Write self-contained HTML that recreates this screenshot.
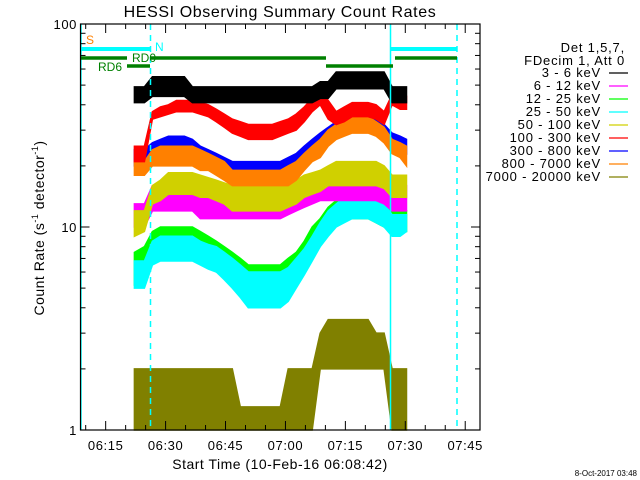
<!DOCTYPE html>
<html><head><meta charset="utf-8"><style>
body{margin:0;background:#fff;}
svg{display:block;font-family:"Liberation Sans",sans-serif;}
</style></head><body>
<svg id="chart" width="640" height="480" viewBox="0 0 640 480" xmlns="http://www.w3.org/2000/svg">
<rect x="0" y="0" width="640" height="480" fill="#fff"/>
<text x="280" y="17" font-size="16" text-anchor="middle" letter-spacing="0.6">HESSI Observing Summary Count Rates</text>
<g id="series"></g>
<g id="overlay"></g>
<g id="axes"></g>
<text x="280" y="469" font-size="14" text-anchor="middle" letter-spacing="0.5">Start Time (10-Feb-16 06:08:42)</text>
<text transform="translate(44,228) rotate(-90)" font-size="14" text-anchor="middle" letter-spacing="0.5">Count Rate (s<tspan font-size="9" dy="-6">-1</tspan><tspan dy="6"> detector</tspan><tspan font-size="9" dy="-6">-1</tspan><tspan dy="6">)</tspan></text>
<text x="637" y="476" font-size="8" text-anchor="end">8-Oct-2017 03:48</text>
<text x="625" y="52" font-size="13" text-anchor="end" letter-spacing="0.8">Det 1,5,7,</text>
<text x="625" y="65" font-size="13" text-anchor="end" letter-spacing="0.8">FDecim 1, Att 0</text>
<g id="legend"></g>
</svg>
<script>
const times = [13.5,16,18,20,22,24,26,28,30,32,34,36,38,40,42,44,46,48,50,52,54,56,58,60,62,64,66,68,70,72,74,76,78,80,81.6];
const bandNames = ["3 - 6 keV","6 - 12 keV","12 - 25 keV","25 - 50 keV","50 - 100 keV","100 - 300 keV","300 - 800 keV","800 - 7000 keV","7000 - 20000 keV"];
const bandColors = ["#000000","#ff00ff","#00ff00","#00ffff","#d0d000","#ff0000","#0000ff","#ff8000","#808000"];
const blackLo = [41,41,44,44,44,44,44,41,41,41,41,41,41,41,41,41,41,41,41,41,41,41,41,43,43,48,48,48,48,48,48,48,41,41,41];
const blackHi = [49,49,55,55,55,55,55,49,49,49,49,49,49,49,49,49,49,49,49,49,49,49,49,52,52,58,58,58,58,58,58,58,49,49,49];
const magentaLo = [10,10,12,12,12,12,12,12,11,11,11,11,11,11,11,11,11,11,11,11.5,12,12.5,13,13.5,13.5,13.5,13.5,13.5,13.5,13.5,13.5,13,12,12,12];
const magentaHi = [13,13,16,16,16,16,16,16,14.7,14.7,14.7,14.7,14.7,14.7,14.7,14.7,14.7,14.5,14.5,15,15.5,16,16.5,17,18,18.5,18.5,18.5,18.5,18.5,18.5,18,16,16,16];
const greenLo = [5.2,5.5,7,7,7,7,7,7,6.8,6.5,6,5.8,5.4,5,4.3,4.3,4.3,4.3,4.3,4.6,5.3,6.3,7.5,8.5,9.5,10.5,11,11,11,11,10.5,10,9.5,9.5,9.5];
const greenHi = [7.5,8,9.5,10,10,10,10,10,9.5,9,8.5,8,7.5,7,6.5,6.5,6.5,6.5,6.5,7,7.5,8.5,10,11,12.5,13.5,14.5,15,15,15,14.5,13.5,12,12,12];
const cyanLo = [5,5,6.5,6.8,6.8,6.8,6.8,6.8,6.5,6.2,6,5.5,5,4.5,4,4,4,4,4,4.3,5,5.8,6.8,8,9,10,10.5,11,11,11,10.5,10,9,9,9.5];
const cyanHi = [6.8,6.8,8.5,9,9,9,9,9,8.5,8.2,8,7.5,7,6.5,6,6,6,6,6,6.3,7,7.8,9,10.5,12,13,14,15,15,15,14,13,11.5,11.5,11.5];
const yellowLo = [9,9.5,13,13.5,14.5,14.5,14.5,14.5,14,14,13.5,13,12,12,12,12,12,12,12,12.5,13,14,14.5,15,16,16,16,16,16,16,16,15.5,14,14,14];
const yellowHi = [12,12,16,17,18.5,18.5,18.5,18.5,18,17.5,17,16.5,16,16,16,16,16,16,16,16,17,18,18.5,19,20,21,21,21,21,21,21,20,18,18,18];
const redLo = [21,21,34,35,36,37,37,37,36,35,33,31,29,28,27,27,27,27,28,29,30,33,37,40,34,32,33,35,35,35,34,32,40,38,38];
const redHi = [25,25,37,39,40,42,42,42,41,40,38,36,34,33,32,32,32,32,33,34,36,39,43,47,42,37,39,41,41,41,40,37,45,44,44];
const blueLo = [20,20,22,22,22,22,22,22,21,20,19,18,17,17,17,17,17,17,17,18,19,21,22,24,27,29,30,30,30,30,30,28,25,24,23];
const blueHi = [24,24,26,27,28,28,28,27,25,24,23,22,21,21,21,21,21,21,21,22,23,25,27,29,31,33,34,34,34,34,34,32,29,28,27];
const orangeLo = [18,18,20,20,20,20,20,20,19,19,18,17,16,16,16,16,16,16,16,16,17,19,21,22,25,27,28,29,29,29,28,26,23,22,20];
const orangeHi = [21,21,24,25,25,25,25,25,24,23,22,21,19,19,19,19,19,19,19,20,21,23,25,27,30,32,34,35,35,35,33,31,27,26,25];
const oliveLo = [1,1,1,1,1,1,1,1,1,1,1,1,1,1,1,1,1,1,1,1,1,1,1,2,2,2,2,2,2,2,2,2,1,1,1];
const oliveHi = [2,2,2,2,2,2,2,2,2,2,2,2,2,1.3,1.3,1.3,1.3,1.3,1.3,2,2,2,2,3,3.5,3.5,3.5,3.5,3.5,3.5,3,3,2,2,2];
const xTickLabels = ["06:15","06:30","06:45","07:00","07:15","07:30","07:45"];
const xTickMinutes = [6.3,21.3,36.3,51.3,66.3,81.3,96.3];
const yTickLabels = ["1","10","100"];
const yTickValues = [1,10,100];

const X0=80.5, X1=480, Y0=430, Y1=24, TMAX=100;
function xs(t){return X0+(X1-X0)*t/TMAX;}
function ys(v){return Y0-(Y0-Y1)*Math.log10(v)/2;}
const NS="http://www.w3.org/2000/svg";
function mk(tag,attrs,parent){const e=document.createElementNS(NS,tag);for(const k in attrs)e.setAttribute(k,attrs[k]);parent.appendChild(e);return e;}

const series=document.getElementById('series');
const los=[blackLo,magentaLo,greenLo,cyanLo,yellowLo,redLo,blueLo,orangeLo,oliveLo];
const his=[blackHi,magentaHi,greenHi,cyanHi,yellowHi,redHi,blueHi,orangeHi,oliveHi];
const order=[8,2,3,1,4,6,7,5,0];
order.forEach(function(i){
  const lo=los[i],hi=his[i];
  let pts=[];
  for(let k=0;k<times.length;k++)pts.push(xs(times[k]).toFixed(1)+","+ys(hi[k]).toFixed(1));
  for(let k=times.length-1;k>=0;k--)pts.push(xs(times[k]).toFixed(1)+","+ys(lo[k]).toFixed(1));
  const p=mk('polygon',{points:pts.join(' '),fill:bandColors[i],stroke:bandColors[i],'stroke-width':1.5},series);
  
  
});

const ov=document.getElementById('overlay');
function line(x1,y1,x2,y2,c,w,dash,name){const l=mk('line',{x1:x1,y1:y1,x2:x2,y2:y2,stroke:c,'stroke-width':w},ov);if(dash)l.setAttribute('stroke-dasharray',dash);}
line(81,24,81,430,'#00ffff',1.5,null,'saa-start-line');
line(150.5,24,150.5,430,'#00ffff',1.5,'6,5','night-start-line');
line(390.5,24,390.5,430,'#00ffff',1.5,null,'saa-line-2');
line(457,24,457,430,'#00ffff',1.5,'6,5','night-line-2');
line(80,49,150,49,'#00ffff',4,null,'saa-bar-1');
line(390,49,457,49,'#00ffff',4,null,'saa-bar-2');
line(80,58,127,58,'#008000',3.5,null,'rd-bar-1');
line(127,66,150,66,'#008000',3.5,null,'rd6-bar');
line(150,58,326,58,'#008000',3.5,null,'rd0-bar');
line(326,66,393,66,'#008000',3.5,null,'rd-bar-low');
line(395,58,457,58,'#008000',3.5,null,'rd-bar-2');
function txt(x,y,s,c,size,name){const t=mk('text',{x:x,y:y,fill:c,'font-size':size},ov);t.textContent=s;}
txt(86,44,'S','#ff8000',12,'saa-label');
txt(155,51,'N','#00ffff',12,'night-label');
txt(98,71,'RD6','#008000',12,'rd6-label');
txt(132,62,'RD0','#008000',12,'rd0-label');

const ax=document.getElementById('axes');
const fr=mk('rect',{x:80.5,y:24,width:399.5,height:406,fill:'none',stroke:'#000','stroke-width':1.2},ax);


for(let m=1.3;m<=100;m+=5){
  const major=Math.abs(((m-6.3)/15)-Math.round((m-6.3)/15))<0.01;
  const x=xs(m),L=major?9:5;
  mk('line',{x1:x,y1:430,x2:x,y2:430-L,stroke:'#000','stroke-width':1},ax);
  mk('line',{x1:x,y1:24,x2:x,y2:24+L,stroke:'#000','stroke-width':1},ax);
}
xTickLabels.forEach(function(s,i){
  const t=mk('text',{x:xs(xTickMinutes[i]),y:450,'font-size':13,'text-anchor':'middle','letter-spacing':0.6},ax);
  t.textContent=s;
  
  
});
for(let d=0;d<2;d++){for(let k=1;k<=10;k++){
  const v=k*Math.pow(10,d),y=ys(v),L=(k===1||k===10)?9:5;
  mk('line',{x1:80.5,y1:y,x2:80.5+L,y2:y,stroke:'#000','stroke-width':1},ax);
  mk('line',{x1:480,y1:y,x2:480-L,y2:y,stroke:'#000','stroke-width':1},ax);
}}
yTickLabels.forEach(function(s,i){
  const t=mk('text',{x:77,y:ys(yTickValues[i])+5,'font-size':13,'text-anchor':'end','letter-spacing':0.6},ax);
  t.textContent=s;
  
  
});

const lg=document.getElementById('legend');
bandNames.forEach(function(s,i){
  const y=73+13*i;
  const t=mk('text',{x:601,y:y+4,'font-size':13,'text-anchor':'end','letter-spacing':0.8},lg);
  t.textContent=s;
  
  
  const l=mk('line',{x1:609,y1:y,x2:628,y2:y,stroke:bandColors[i],'stroke-width':1.2},lg);
  
  
});
</script>
</body></html>
